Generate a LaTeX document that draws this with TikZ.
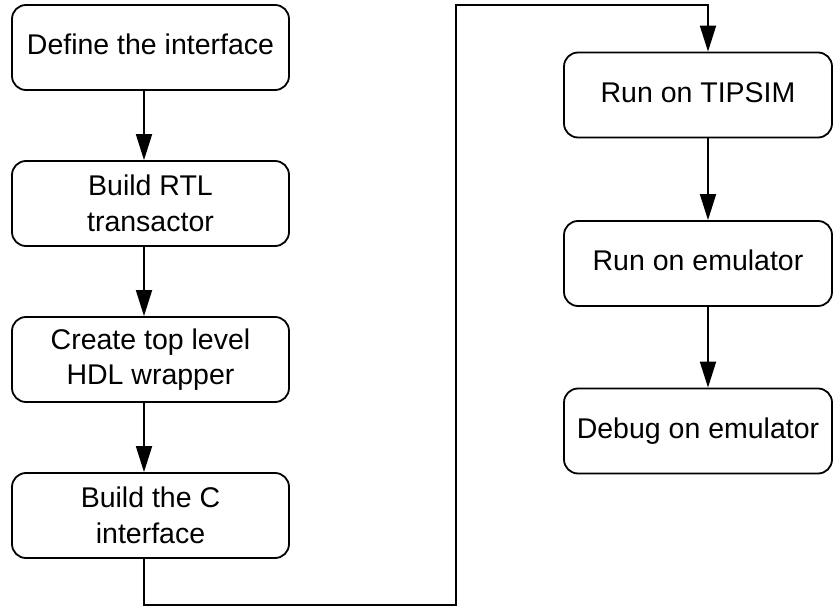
\documentclass[tikz,border=0pt]{standalone}
\usepackage{fontspec}
\setmainfont{Liberation Sans}
\usetikzlibrary{arrows.meta}

\begin{document}
\begin{tikzpicture}[x=1pt,y=-1pt,
  stepbox/.style={draw, line width=1.8pt, rounded corners=14pt, inner sep=0pt,
    align=center, font=\fontsize{28.5}{35.5}\selectfont,
    minimum height=85pt},
  oneline/.style={text height=20.5pt, text depth=6pt},
  leftbox/.style={stepbox, minimum width=277pt},
  rightbox/.style={stepbox, oneline, minimum width=268pt},
  flow/.style={line width=1.8pt, -{Triangle[length=26pt,width=16pt]}}]
  \useasboundingbox (0,0) rectangle (833,607);

  % left column
  \node[leftbox, oneline] (b1) at (150.5,47.5) {Define the interface};
  \node[leftbox] (b2) at (150.5,203.5) {Build RTL\\transactor};
  \node[leftbox] (b3) at (150.5,359.5) {Create top level\\HDL wrapper};
  \node[leftbox] (b4) at (150.5,515.5) {Build the C\\interface};

  % right column
  \node[rightbox] (b5) at (698,95)    {Run on TIPSIM};
  \node[rightbox] (b6) at (698,263.5) {Run on emulator};
  \node[rightbox] (b7) at (698,431)   {Debug on emulator};

  % connector columns and routing points
  \coordinate (lx) at (144,0);
  \coordinate (rx) at (708,0);
  \coordinate (low) at (456,605);
  \coordinate (high) at (456,5);

  \draw[flow] (b1.south -| lx) -- (b2.north -| lx);
  \draw[flow] (b2.south -| lx) -- (b3.north -| lx);
  \draw[flow] (b3.south -| lx) -- (b4.north -| lx);
  \draw[flow] (b4.south -| lx) |- (low) -- (high) -| (b5.north -| rx);
  \draw[flow] (b5.south -| rx) -- (b6.north -| rx);
  \draw[flow] (b6.south -| rx) -- (b7.north -| rx);
\end{tikzpicture}
\end{document}
